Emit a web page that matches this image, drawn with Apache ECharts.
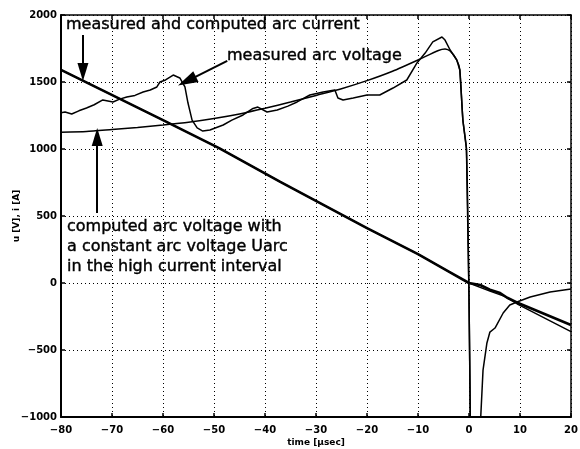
<!DOCTYPE html>
<html>
<head>
<meta charset="utf-8">
<script src="https://cdn.jsdelivr.net/npm/echarts@6/dist/echarts.min.js"></script>
<style>
  html, body { margin: 0; padding: 0; background: #fff; }
  #chart { width: 580px; height: 449px; }
</style>
</head>
<body>
<div id="chart"></div>
<script>
// time axis [µsec] and value axis [V]/[A]
const xTicks = [-80, 20, 10]   // min, max, step
const yTicks = [-1000, 2000, 500]

// arc current (measured and computed overlap before current zero)
const currentMeasured = [
  [-80, 1590], [-60, 1215], [-49, 1007], [-37, 754], [-20, 410], [-10, 215], [-3.7, 80], [0, 0],
  [2.2, -15], [4.1, -50], [6.1, -75], [7.5, -110], [9.4, -145], [20, -313]
]
const currentComputed = [
  [-80, 1590], [-60, 1215], [-49, 1007], [-37, 754], [-20, 410], [-10, 215], [-3.7, 80], [0, 0],
  [4.1, -60], [7, -100], [9.4, -155], [20, -363]
]

// measured arc voltage (noisy)
const voltageMeasured = [
  [-80, 1270], [-79.2, 1276], [-77.9, 1261], [-76.5, 1285], [-75, 1306], [-73.5, 1330], [-71.8, 1366],
  [-69.8, 1351], [-68.5, 1372], [-67.1, 1388], [-65.5, 1400], [-63.9, 1425], [-62.5, 1440], [-61.2, 1463],
  [-60.6, 1500], [-59.5, 1515], [-58, 1552], [-56.7, 1530], [-55.7, 1463], [-55.1, 1343], [-54.3, 1216],
  [-53.3, 1157], [-52.2, 1134], [-50.8, 1142], [-48.2, 1179], [-46.5, 1215], [-44.3, 1254], [-42.5, 1300],
  [-41.4, 1313], [-39.6, 1276], [-37.6, 1291], [-35.5, 1320], [-33.7, 1351], [-31.2, 1403], [-28.6, 1425],
  [-26.3, 1440], [-25.7, 1381], [-24.7, 1366], [-22.7, 1381], [-20, 1403], [-17.5, 1403], [-14.9, 1455],
  [-12.2, 1515], [-10.2, 1642], [-8.6, 1716], [-7.1, 1799], [-5.3, 1836], [-4.7, 1813], [-3.7, 1739],
  [-2.4, 1664], [-1.8, 1590], [-1.2, 1216], [-0.5, 1000], [0, -100], [0.25, -1000], [0.5, -1600],
  [2, -1600], [2.3, -1000], [2.75, -650], [3.5, -450], [4.1, -366], [5.1, -336], [6.7, -224],
  [8, -164], [9.4, -142], [12, -104], [15.9, -67], [20, -45]
]

// computed arc voltage with constant Uarc in the high current interval
const voltageComputed = [
  [-80, 1125], [-75, 1130], [-70, 1145], [-65, 1160], [-60, 1179], [-55, 1200], [-50, 1228],
  [-45, 1262], [-40, 1304], [-35, 1350], [-30, 1400], [-25, 1450], [-20, 1510], [-15, 1580],
  [-10, 1664], [-6, 1735], [-4.7, 1746], [-3.7, 1731], [-2.4, 1664], [-1.8, 1590], [-1.2, 1216],
  [-0.5, 1000], [0, -100], [0.25, -1000]
]

// annotation arrows: [from, to] in data coordinates
const arrowCurrent = [[-75.7, 1851], [-75.7, 1575]]
const arrowMeasured = [[-47.4, 1657], [-55.3, 1507]]
const arrowComputed = [[-72.9, 522], [-72.9, 1090]]

const labelFont = 'DejaVu Sans'

const chart = echarts.init(document.getElementById('chart'))

const axisBase = {
  type: 'value',
  axisLine: { show: true, onZero: false, lineStyle: { color: '#000', width: 2 } },
  axisTick: { show: true, inside: true, length: 4, lineStyle: { color: '#000', width: 1.5 } },
  axisLabel: {
    color: '#000', fontFamily: labelFont, fontWeight: 'bold', fontSize: 10,
    formatter: v => String(v).replace('-', '\u2212')
  },
  splitLine: { show: false }
}

const arrowLine = (pair, size) => [
  { coord: pair[0], symbol: 'none' },
  { coord: pair[1], symbol: 'triangle', symbolSize: size }
]

const textStyle = text => ({
  text, font: '16px "DejaVu Sans"', fill: '#000', stroke: '#000', lineWidth: 0.4, verticalAlign: 'middle'
})

const option = {
  animation: false,
  backgroundColor: '#fff',
  grid: { left: 61, right: 9, top: 15, bottom: 32, outerBoundsMode: 'none' },
  xAxis: [
    {
      ...axisBase,
      min: xTicks[0], max: xTicks[1], interval: xTicks[2],
      position: 'bottom',
      axisLabel: { ...axisBase.axisLabel, margin: 8 },
      name: 'time [\u00b5sec]',
      nameLocation: 'middle',
      nameGap: 21,
      nameMoveOverlap: false,
      nameTextStyle: { color: '#000', fontFamily: labelFont, fontWeight: 'bold', fontSize: 9 },
      splitLine: { show: true, lineStyle: { color: '#000', type: [1, 3], width: 1 } }
    },
    {
      ...axisBase,
      min: xTicks[0], max: xTicks[1], interval: xTicks[2],
      position: 'top',
      axisLine: { show: true, onZero: false, lineStyle: { color: '#000', width: 1.5 } },
      axisLabel: { show: false }
    }
  ],
  yAxis: [
    {
      ...axisBase,
      min: yTicks[0], max: yTicks[1], interval: yTicks[2],
      position: 'left',
      axisLabel: { ...axisBase.axisLabel, margin: 4 },
      name: 'u [V], i [A]',
      nameLocation: 'middle',
      nameGap: 40,
      nameMoveOverlap: false,
      nameRotate: 90,
      nameTextStyle: { color: '#000', fontFamily: labelFont, fontWeight: 'bold', fontSize: 9 },
      splitLine: { show: true, lineStyle: { color: '#000', type: [1, 3], width: 1 } }
    },
    {
      ...axisBase,
      min: yTicks[0], max: yTicks[1], interval: yTicks[2],
      position: 'right',
      axisLine: { show: true, onZero: false, lineStyle: { color: '#000', width: 1.5 } },
      axisLabel: { show: false }
    }
  ],
  series: [
    {
      name: 'measured current',
      type: 'line',
      data: currentMeasured,
      showSymbol: false,
      lineStyle: { color: '#000', width: 2.6 }
    },
    {
      name: 'computed current',
      type: 'line',
      data: currentComputed,
      showSymbol: false,
      lineStyle: { color: '#000', width: 1.4 },
      markLine: {
        silent: true,
        label: { show: false },
        lineStyle: { color: '#000', width: 2, type: 'solid' },
        data: [
          arrowLine(arrowCurrent, [11, 18]),
          arrowLine(arrowMeasured, [12, 20]),
          arrowLine(arrowComputed, [11, 18])
        ]
      }
    },
    {
      name: 'measured voltage',
      type: 'line',
      data: voltageMeasured,
      showSymbol: false,
      lineStyle: { color: '#000', width: 1.5 }
    },
    {
      name: 'computed voltage',
      type: 'line',
      data: voltageComputed,
      showSymbol: false,
      smooth: 0.2,
      lineStyle: { color: '#000', width: 1.5 }
    }
  ],
  graphic: [
    { type: 'text', x: 66, y: 25, style: textStyle('measured and computed arc current') },
    { type: 'text', x: 227, y: 55.5, style: textStyle('measured arc voltage') },
    { type: 'text', x: 67, y: 226.5, style: textStyle('computed arc voltage with') },
    { type: 'text', x: 67, y: 246.5, style: textStyle('a constant arc voltage Uarc') },
    { type: 'text', x: 67, y: 266.5, style: textStyle('in the high current interval') }
  ]
}

chart.setOption(option)
</script>
</body>
</html>
